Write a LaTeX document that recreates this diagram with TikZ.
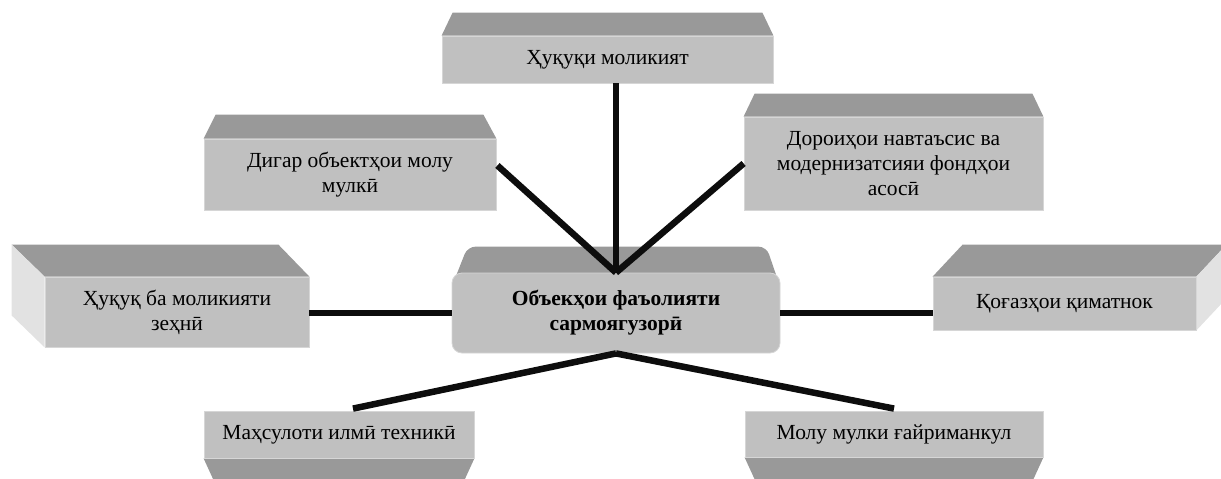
\documentclass[tikz,border=0pt]{standalone}
\usepackage{fontspec}
\setmainfont{Liberation Serif}
\usetikzlibrary{calc}
\definecolor{facefront}{HTML}{C0C0C0}
\definecolor{facetop}{HTML}{999999}
\definecolor{faceside}{HTML}{E2E2E2}
\definecolor{edgelight}{HTML}{D6D6D6}
\pgfdeclarelayer{bg}
\pgfsetlayers{bg,main}
\begin{document}
\begin{tikzpicture}[x=1pt,y=-1pt,
  frontbox/.style={fill=facefront, draw=edgelight, line width=0.8pt, inner sep=0pt, align=center,
    font=\fontsize{21.5}{25}\selectfont},
  topface/.style={fill=facetop},
  sideface/.style={fill=faceside},
  link/.style={line width=6.5pt, draw=black!95}]
\useasboundingbox (0,0) rectangle (1221,479);
\clip (0,0) rectangle (1221,479);

% front faces (nodes)
\node[frontbox, minimum width=331pt, minimum height=47pt] (T) at (607.5,59.5) {Ҳуқуқи моликият};
\node[frontbox, minimum width=292pt, minimum height=71pt] (D) at (350,174.5) {Дигар объектҳои молу\\мулкӣ};
\node[frontbox, minimum width=299pt, minimum height=93pt] (F) at (893.5,163.5) {Дороиҳои навтаъсис ва\\модернизатсияи фондҳои\\асосӣ};
\node[frontbox, minimum width=264pt, minimum height=70pt] (L) at (177,312) {Ҳуқуқ ба моликияти\\зеҳнӣ};
\node[frontbox, minimum width=263pt, minimum height=53pt] (R) at (1064.5,303.5) {Қоғазҳои қиматнок};
\node[frontbox, rounded corners=10pt, minimum width=328pt, minimum height=80pt, font=\fontsize{21.5}{25}\selectfont\bfseries] (C) at (616,313) {Объекҳои фаъолияти\\сармоягузорӣ};
\node[frontbox, minimum width=270pt, minimum height=47pt] (B1) at (339,434.5) {Маҳсулоти илмӣ техникӣ};
\node[frontbox, minimum width=298pt, minimum height=46pt] (B2) at (894,434) {Молу мулки ғайриманкул};

% bevels
\begin{pgfonlayer}{bg}
  \fill[topface] (T.north west) -- ++(11,-23) -- ($(T.north east)+(-11,-23)$) -- (T.north east) -- cycle;
  \fill[topface] (D.north west) -- ++(12,-24) -- ($(D.north east)+(-13,-24)$) -- (D.north east) -- cycle;
  \fill[topface] (F.north west) -- ++(11,-23) -- ($(F.north east)+(-11,-23)$) -- (F.north east) -- cycle;
  \fill[topface] (L.north west) -- ++(-33,-32) -- ($(L.north east)+(-31,-32)$) -- (L.north east) -- cycle;
  \fill[sideface] (L.north west) -- ++(-33,-32) -- ($(L.south west)+(-33,-32)$) -- (L.south west) -- cycle;
  \fill[topface] (R.north west) -- ++(30,-32) -- ($(R.north east)+(30,-32)$) -- (R.north east) -- cycle;
  \fill[sideface] (R.north east) -- ++(30,-32) -- ($(R.south east)+(30,-32)$) -- (R.south east) -- cycle;
  \fill[topface] (B1.south west) -- ++(11,24) -- ($(B1.south east)+(-11,24)$) -- (B1.south east) -- cycle;
  \fill[topface] (B2.south west) -- ++(11,24) -- ($(B2.south east)+(-11,24)$) -- (B2.south east) -- cycle;
  \fill[topface, rounded corners=8pt] ($(C.north west)+(1,12)$) -- ($(C.north west)+(16,-26)$)
     -- ($(C.north east)+(-14,-26)$) -- ($(C.north east)+(-1,12)$) -- cycle;
\end{pgfonlayer}

% connectors
\draw[link] (C.north) -- (C.north |- T.south);
\draw[link] (C.north) -- ($(D.east)+(1,-9)$);
\draw[link] (C.north) -- (F.west);
\draw[link] (C.west) -- (C.west -| L.east);
\draw[link] (C.east) -- (C.east -| R.west);
\draw[link] (C.south) -- ($(B1.north)+(14,-2)$);
\draw[link] (C.south) -- ($(B2.north)+(0,-2)$);
\end{tikzpicture}
\end{document}
